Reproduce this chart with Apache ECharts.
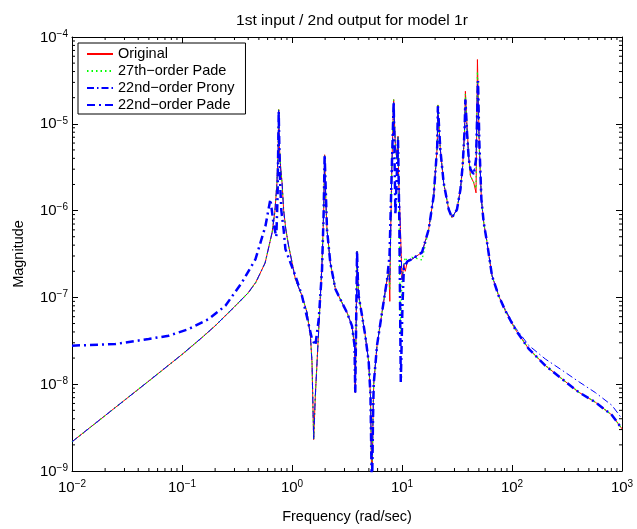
<!DOCTYPE html>
<html>
<head>
<meta charset="utf-8">
<script src="https://cdn.jsdelivr.net/npm/echarts@6/dist/echarts.min.js"></script>
<style>
html,body{margin:0;padding:0;background:#fff;}
#chart{width:637px;height:529px;}
</style>
</head>
<body>
<div id="chart"></div>
<script>
// ---- data ----
const seriesNames = ['Original', '27th\u2212order Pade', '22nd\u2212order Prony', '22nd\u2212order Pade'];

const freq = [0.01, 0.02, 0.05, 0.1, 0.15, 0.2, 0.3, 0.4, 0.47, 0.57, 0.66, 0.70, 0.73, 0.748, 0.757, 0.768, 0.79, 0.812, 0.84, 0.88,
  0.933, 1.074, 1.233, 1.37, 1.47, 1.52, 1.574, 1.63, 1.75, 1.875, 1.94, 1.98, 2.03, 2.08, 2.23, 2.48, 2.75, 3.16, 3.51, 3.70,
  3.76, 3.83, 3.9, 3.97, 4.04, 4.33, 4.64, 4.98, 5.17, 5.33, 5.45, 5.53, 5.93, 6.58, 7.31, 7.6, 7.75, 7.85, 8.1, 8.4,
  8.71, 8.98, 9.2, 9.33, 9.67, 10.0, 10.4, 10.7, 11.2, 12.3, 15.2, 17.5, 19.4, 20.9, 21.2, 22.3, 23.9, 26.6, 28.5, 31.6,
  34.0, 35.6, 37.0, 37.7, 39.0, 40.4, 41.9, 44.9, 47.1, 48.5, 50.5, 52.7, 55.3, 59.3, 65.8, 75.7, 87.1, 107, 142, 201,
  285, 404, 573, 811, 1000];

const originalMag = [2.17e-9, 4.35e-9, 1.09e-8, 2.2e-8, 3.4e-8, 4.7e-8, 7.8e-8, 1.13e-7, 1.5e-7, 2.5e-7, 5.6e-7, 1.0e-6, 2.1e-6, 5.0e-6, 1.46e-5, 5.5e-6, 3.0e-6, 2.1e-6, 1.0e-6, 6.0e-7,
  3.9e-7, 1.62e-7, 1.04e-7, 6.7e-8, 3.6e-8, 1.8e-8, 2.3e-9, 7.4e-9, 4.3e-8, 2.5e-7, 9.5e-7, 4.4e-6, 1.3e-6, 6.1e-7, 2.5e-7, 1.25e-7, 9.5e-8, 6.7e-8, 4.7e-8, 2.8e-8,
  8.0e-9, 5.0e-8, 3.4e-7, 1.6e-7, 1.04e-7, 6.2e-8, 3.6e-8, 1.8e-8, 7.4e-9, 5.0e-10, 4.0e-9, 1.0e-8, 2.8e-8, 6.7e-8, 1.6e-7, 2.0e-7, 9.0e-8, 4.0e-7, 3.5e-6, 1.9e-5,
  5.5e-6, 3.9e-6, 7.2e-6, 2.3e-6, 6.1e-7, 1.6e-7, 2.4e-7, 2.0e-7, 2.6e-7, 2.75e-7, 3.3e-7, 6.1e-7, 1.47e-6, 5.5e-6, 1.65e-5, 5.1e-6, 2.1e-6, 1.03e-6, 8.3e-7, 1.03e-6,
  1.76e-6, 3.3e-6, 7.9e-6, 2.37e-5, 9.4e-6, 4.25e-6, 2.5e-6, 2.1e-6, 1.6e-6, 5.5e-5, 5.1e-6, 1.35e-6, 7.3e-7, 4.3e-7, 1.77e-7, 1.04e-7, 7.0e-8, 4.3e-8, 2.55e-8, 1.64e-8,
  1.15e-8, 8.1e-9, 6.2e-9, 4.4e-9, 3.06e-9];

const pade27Mag = [2.17e-9, 4.35e-9, 1.09e-8, 2.2e-8, 3.4e-8, 4.7e-8, 7.8e-8, 1.13e-7, 1.5e-7, 2.5e-7, 5.6e-7, 1.0e-6, 2.1e-6, 5.0e-6, 1.46e-5, 5.5e-6, 3.0e-6, 2.1e-6, 1.0e-6, 6.0e-7,
  3.9e-7, 1.62e-7, 1.04e-7, 6.7e-8, 3.6e-8, 1.8e-8, 2.3e-9, 7.4e-9, 4.3e-8, 2.5e-7, 9.5e-7, 4.4e-6, 1.3e-6, 6.1e-7, 2.5e-7, 1.25e-7, 9.5e-8, 6.7e-8, 4.7e-8, 2.8e-8,
  8.0e-9, 5.0e-8, 3.4e-7, 1.6e-7, 1.04e-7, 6.2e-8, 3.6e-8, 1.8e-8, 7.4e-9, 5.0e-10, 4.0e-9, 1.0e-8, 2.8e-8, 6.7e-8, 1.6e-7, 2.0e-7, 1.2e-7, 4.0e-7, 3.5e-6, 1.9e-5,
  5.5e-6, 3.9e-6, 7.2e-6, 2.3e-6, 4.0e-8, 1.6e-7, 2.4e-7, 2.9e-7, 2.6e-7, 2.9e-7, 2.7e-7, 6.1e-7, 1.47e-6, 5.5e-6, 1.65e-5, 5.1e-6, 2.1e-6, 1.03e-6, 8.3e-7, 1.03e-6,
  1.76e-6, 3.3e-6, 7.9e-6, 2.2e-5, 9.4e-6, 4.25e-6, 2.5e-6, 2.1e-6, 1.8e-6, 4.0e-5, 5.1e-6, 1.35e-6, 7.3e-7, 4.3e-7, 1.77e-7, 1.04e-7, 7.0e-8, 4.3e-8, 2.55e-8, 1.64e-8,
  1.15e-8, 8.1e-9, 6.2e-9, 4.4e-9, 3.06e-9];

const pronyMag = [2.17e-9, 4.35e-9, 1.09e-8, 2.2e-8, 3.4e-8, 4.7e-8, 7.8e-8, 1.13e-7, 1.5e-7, 2.5e-7, 5.6e-7, 1.0e-6, 2.1e-6, 5.0e-6, 1.46e-5, 5.5e-6, 3.0e-6, 2.1e-6, 1.0e-6, 6.0e-7,
  3.9e-7, 1.62e-7, 1.04e-7, 6.7e-8, 3.6e-8, 1.8e-8, 2.3e-9, 7.4e-9, 4.3e-8, 2.5e-7, 9.5e-7, 4.4e-6, 1.3e-6, 6.1e-7, 2.5e-7, 1.25e-7, 9.5e-8, 6.7e-8, 4.7e-8, 2.8e-8,
  8.0e-9, 5.0e-8, 3.4e-7, 1.6e-7, 1.04e-7, 6.2e-8, 3.6e-8, 1.8e-8, 7.4e-9, 5.0e-10, 4.0e-9, 1.0e-8, 2.8e-8, 6.7e-8, 1.6e-7, 2.0e-7, 1.5e-7, 4.0e-7, 3.5e-6, 1.8e-5,
  5.5e-6, 3.9e-6, 7.0e-6, 2.3e-6, 6.1e-7, 1.6e-7, 2.4e-7, 2.4e-7, 2.6e-7, 2.75e-7, 3.3e-7, 6.1e-7, 1.47e-6, 5.5e-6, 1.6e-5, 5.1e-6, 2.1e-6, 1.03e-6, 8.3e-7, 1.03e-6,
  1.76e-6, 3.3e-6, 7.9e-6, 1.9e-5, 8.5e-6, 4.0e-6, 3.0e-6, 2.6e-6, 3.9e-6, 3.1e-5, 5.5e-6, 1.35e-6, 7.3e-7, 4.3e-7, 1.8e-7, 1.06e-7, 7.2e-8, 4.5e-8, 2.8e-8, 1.95e-8,
  1.45e-8, 1.07e-8, 8.0e-9, 5.7e-9, 4.0e-9];

const pade22Freq = [0.01, 0.0248, 0.0498, 0.0757, 0.115, 0.175, 0.248, 0.351, 0.465, 0.573, 0.636, 0.68, 0.72, 0.74, 0.757, 0.775, 0.80, 0.84, 0.871, 1.074,
  1.233, 1.37, 1.52, 1.63, 1.75, 1.875, 1.94, 1.98, 2.08, 2.23, 2.48, 2.75, 3.16, 3.51, 3.70, 3.76, 3.83, 3.9, 3.97, 4.04,
  4.33, 4.64, 4.98, 5.17, 5.33, 5.45, 5.53, 5.93, 6.58, 7.31, 7.7, 8.1, 8.4, 8.71, 9.2, 9.45, 9.75, 10.1, 10.4, 11.2,
  12.3, 15.2, 17.5, 19.4, 20.9, 21.2, 22.3, 23.9, 26.6, 28.5, 31.6, 34.0, 35.6, 37.0, 37.7, 39.0, 40.4, 41.9, 44.9, 47.1,
  49.1, 50.5, 52.7, 55.3, 59.3, 65.8, 75.7, 87.1, 107, 142, 201, 285, 404, 573, 811, 1000];

const pade22Mag = [2.78e-8, 2.9e-8, 3.32e-8, 3.62e-8, 4.32e-8, 5.64e-8, 8.0e-8, 1.49e-7, 2.75e-7, 6.6e-7, 1.35e-6, 7.0e-7, 5.0e-7, 1.5e-6, 1.4e-5, 2.5e-6, 1.0e-6, 6.0e-7, 3.6e-7, 1.77e-7,
  1.04e-7, 5.9e-8, 3.3e-8, 2.8e-8, 5.6e-8, 2.1e-7, 9.5e-7, 4.4e-6, 6.1e-7, 2.5e-7, 1.25e-7, 9.5e-8, 6.7e-8, 4.7e-8, 2.8e-8, 8.0e-9, 5.0e-8, 3.4e-7, 1.6e-7, 1.04e-7,
  6.2e-8, 3.6e-8, 1.8e-8, 7.4e-9, 5.0e-10, 4.0e-9, 1.0e-8, 2.8e-8, 6.7e-8, 1.6e-7, 3.0e-7, 3.5e-6, 1.8e-5, 9.0e-7, 6.5e-6, 8.0e-7, 1.06e-8, 8.0e-8, 2.2e-7, 2.6e-7,
  2.75e-7, 3.3e-7, 6.1e-7, 1.47e-6, 5.5e-6, 1.59e-5, 5.1e-6, 2.1e-6, 1.03e-6, 8.3e-7, 1.03e-6, 1.76e-6, 3.3e-6, 8.0e-6, 1.9e-5, 8.0e-6, 4.0e-6, 3.0e-6, 2.6e-6, 3.9e-6,
  3.1e-5, 6.0e-6, 1.35e-6, 7.3e-7, 4.3e-7, 1.77e-7, 1.04e-7, 7.0e-8, 4.3e-8, 2.55e-8, 1.64e-8, 1.15e-8, 8.1e-9, 6.2e-9, 4.4e-9, 3.06e-9];

// axis ranges and minor tick multipliers
const xRange = [0.01, 1000];
const yRange = [1e-9, 1e-4];
const minorMultipliers = [2, 3, 4, 5, 6, 7, 8, 9];
const xDecades = [0.01, 0.1, 1, 10, 100];
const yDecades = [1e-9, 1e-8, 1e-7, 1e-6, 1e-5];

// ---- build ----
const FONT = '"Liberation Sans", Arial, Helvetica, sans-serif';
const zip = (xs, ys) => xs.map((x, i) => [x, ys[i]]);
const xMinor = [];
xDecades.forEach(d => minorMultipliers.forEach(m => xMinor.push([d * m, yRange[0]])));
const yMinor = [];
yDecades.forEach(d => minorMultipliers.forEach(m => yMinor.push([xRange[0], d * m])));

function expLabel(v) {
  const e = Math.round(Math.log10(v));
  return '{b|10}{e|' + (e < 0 ? '\u2212' : '') + Math.abs(e) + '}';
}
const richLabel = {
  b: { fontSize: 15, fontFamily: FONT, color: '#000', lineHeight: 16, verticalAlign: 'bottom' },
  e: { fontSize: 10, fontFamily: FONT, color: '#000', lineHeight: 10, verticalAlign: 'top' }
};

const baseAxis = {
  type: 'log', logBase: 10,
  axisLine: { show: true, lineStyle: { color: '#000', width: 1 } },
  axisTick: { show: true, inside: true, length: 6, lineStyle: { color: '#000' } },
  splitLine: { show: false },
  minorTick: { show: false }
};

const chart = echarts.init(document.getElementById('chart'), null, { renderer: 'canvas' });

const tickSeries = (data, vertical) => ({
  type: 'custom', silent: true, clip: false, z: 1, data: data,
  renderItem: function (params, api) {
    const st = { stroke: '#000', lineWidth: 1 };
    if (vertical) {
      const v = api.value(0);
      const pb = api.coord([v, yRange[0]]);
      const pt = api.coord([v, yRange[1]]);
      return { type: 'group', children: [
        { type: 'line', shape: { x1: pb[0], y1: pb[1], x2: pb[0], y2: pb[1] - 3 }, style: st },
        { type: 'line', shape: { x1: pt[0], y1: pt[1], x2: pt[0], y2: pt[1] + 3 }, style: st }
      ] };
    } else {
      const v = api.value(1);
      const pl = api.coord([xRange[0], v]);
      const pr = api.coord([xRange[1], v]);
      return { type: 'group', children: [
        { type: 'line', shape: { x1: pl[0], y1: pl[1], x2: pl[0] + 3, y2: pl[1] }, style: st },
        { type: 'line', shape: { x1: pr[0], y1: pr[1], x2: pr[0] - 3, y2: pr[1] }, style: st }
      ] };
    }
  }
});

const lineSeries = (name, data, color, width, dash, z) => ({
  name: name, type: 'line', data: data, showSymbol: false, symbol: 'none',
  clip: true, animation: false, z: z,
  lineStyle: { color: color, width: width, type: dash },
  itemStyle: { color: color },
  emphasis: { disabled: true }
});

chart.setOption({
  animation: false,
  backgroundColor: '#fff',
  textStyle: { fontFamily: FONT },
  title: {
    text: '1st input / 2nd output for model 1r',
    left: 347, top: 8, textAlign: 'center',
    textStyle: { fontSize: 15.5, fontWeight: 'normal', color: '#000', fontFamily: FONT }
  },
  grid: { left: 72, right: 15, top: 37, bottom: 57, show: false },
  legend: {
    data: seriesNames,
    orient: 'vertical', left: 78, top: 43,
    padding: [3, 11, 1, 8],
    itemWidth: 26, itemHeight: 16, itemGap: 1,
    itemStyle: { opacity: 0 },
    backgroundColor: '#fff', borderColor: '#000', borderWidth: 1,
    textStyle: { fontSize: 14.5, color: '#000', fontFamily: FONT, lineHeight: 16 },
    selectedMode: false
  },
  xAxis: [
    Object.assign({}, baseAxis, {
      min: xRange[0], max: xRange[1], position: 'bottom',
      name: 'Frequency (rad/sec)', nameLocation: 'middle', nameGap: 38,
      nameTextStyle: { fontSize: 14.5, color: '#000', fontFamily: FONT },
      axisLabel: { formatter: expLabel, rich: richLabel, margin: 8 }
    }),
    Object.assign({}, baseAxis, {
      min: xRange[0], max: xRange[1], position: 'top',
      axisLabel: { show: false }
    })
  ],
  yAxis: [
    Object.assign({}, baseAxis, {
      min: yRange[0], max: yRange[1], position: 'left',
      name: 'Magnitude', nameLocation: 'middle', nameGap: 46,
      nameTextStyle: { fontSize: 14.5, color: '#000', fontFamily: FONT },
      axisLabel: { formatter: expLabel, rich: richLabel, margin: 4 }
    }),
    Object.assign({}, baseAxis, {
      min: yRange[0], max: yRange[1], position: 'right',
      axisLabel: { show: false }
    })
  ],
  series: [
    tickSeries(xMinor, true),
    tickSeries(yMinor, false),
    lineSeries(seriesNames[0], zip(freq, originalMag), '#ff0000', 1, 'solid', 2),
    lineSeries(seriesNames[1], zip(freq, pade27Mag), '#00ff00', 1.2, [1.5, 3], 3),
    lineSeries(seriesNames[2], zip(freq, pronyMag), '#0000ff', 1, [7, 3, 1.5, 3], 4),
    lineSeries(seriesNames[3], zip(pade22Freq, pade22Mag), '#0000ff', 2.5, [8, 4, 2, 4], 5)
  ]
});
</script>
</body>
</html>
